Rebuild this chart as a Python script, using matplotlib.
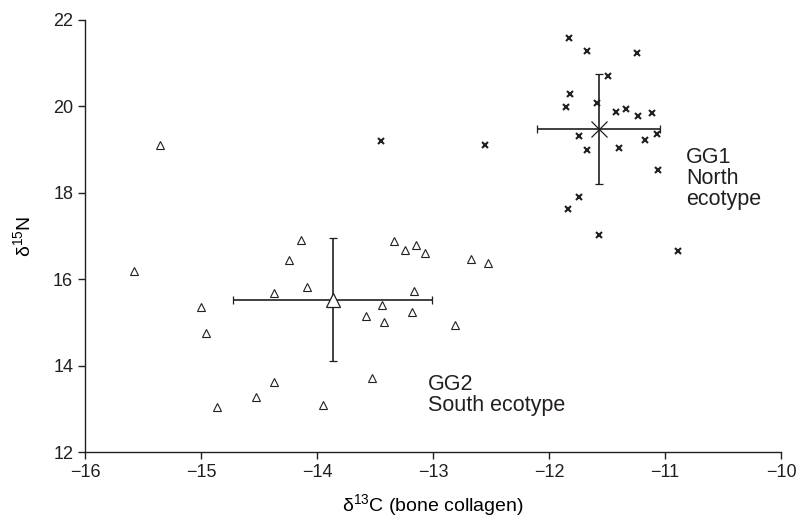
import matplotlib
matplotlib.use('Agg')
import matplotlib.pyplot as plt

plt.rcParams.update({
    'font.family': ['Liberation Sans', 'DejaVu Sans'],
    'font.size': 11,
    'mathtext.default': 'regular',
    'text.color': '#231f20',
    'axes.edgecolor': '#231f20',
    'xtick.color': '#231f20',
    'ytick.color': '#231f20',
    'axes.linewidth': 1.0,
})

# GG1 (North ecotype) - crosses
gg1_x = [-11.83, -11.67, -11.24, -11.49, -11.82, -11.85, -11.59, -11.42, -11.34,
         -11.23, -11.11, -11.74, -11.07, -11.17, -11.67, -11.40, -11.06, -11.74,
         -11.84, -11.57, -10.89, -13.45, -12.55]
gg1_y = [21.59, 21.28, 21.23, 20.71, 20.29, 19.98, 20.09, 19.88, 19.94,
         19.78, 19.85, 19.31, 19.36, 19.22, 19.00, 19.03, 18.53, 17.90,
         17.63, 17.03, 16.66, 19.21, 19.11]

# GG2 (South ecotype) - triangles
gg2_x = [-15.58, -15.35, -15.00, -14.96, -14.86, -14.53, -14.37, -14.37, -14.24,
         -14.14, -14.09, -13.34, -13.24, -13.15, -13.07, -12.67, -12.53, -13.16,
         -13.44, -13.18, -13.58, -13.42, -12.81, -13.53, -13.95]
gg2_y = [16.20, 19.10, 15.35, 14.76, 13.05, 13.28, 13.62, 15.69, 16.45,
         16.91, 15.83, 16.88, 16.67, 16.79, 16.62, 16.47, 16.39, 15.73,
         15.40, 15.25, 15.16, 15.02, 14.94, 13.73, 13.10]

# group means and spread
gg1_mean = (-11.57, 19.48)
gg1_err = (0.53, 1.27)
gg2_mean = (-13.865, 15.53)
gg2_err = (0.855, 1.42)

ink = '#231f20'

fig = plt.figure(figsize=(8, 5.3), dpi=100)
ax = fig.add_axes([0.10625, 0.1466, 0.87, 0.8157])

ax.plot(gg2_x, gg2_y, linestyle='none', marker='^', markersize=6,
        markerfacecolor='white', markeredgecolor=ink, markeredgewidth=0.8)
ax.plot(gg1_x, gg1_y, linestyle='none', marker='x', markersize=5,
        markeredgecolor=ink, markeredgewidth=1.5)

# means with error bars
ax.errorbar(gg1_mean[0], gg1_mean[1], xerr=gg1_err[0], yerr=gg1_err[1],
            fmt='x', markersize=11, color=ink, ecolor=ink, elinewidth=1.2,
            capsize=3, capthick=1.0, markeredgewidth=0.9)
ax.errorbar(gg2_mean[0], gg2_mean[1], xerr=gg2_err[0], yerr=gg2_err[1],
            fmt='^', markersize=10, markerfacecolor='white', markeredgecolor=ink,
            ecolor=ink, elinewidth=1.2, capsize=3, capthick=1.0, markeredgewidth=0.9)

ax.text(-10.82, 19.06, 'GG1\nNorth\necotype', fontsize=15.5, va='top', ha='left',
        linespacing=1.0)
ax.text(-13.04, 13.8, 'GG2\nSouth ecotype', fontsize=15.5, va='top', ha='left',
        linespacing=1.0)

ax.set_xlim(-16, -10)
ax.set_ylim(12, 22)
ax.set_xticks([-16, -15, -14, -13, -12, -11, -10])
ax.set_xticklabels(['\u221216', '\u221215', '\u221214', '\u221213', '\u221212', '\u221211', '\u221210'])
ax.set_yticks([12, 14, 16, 18, 20, 22])
ax.tick_params(direction='out', length=5, width=1.0, labelsize=13)

ax.spines['top'].set_visible(False)
ax.spines['right'].set_visible(False)

ax.set_xlabel('δ$^{13}$C (bone collagen)', fontsize=14, labelpad=8)
ax.set_ylabel('δ$^{15}$N', fontsize=14, labelpad=14)

fig.savefig('out.png', dpi=100)
